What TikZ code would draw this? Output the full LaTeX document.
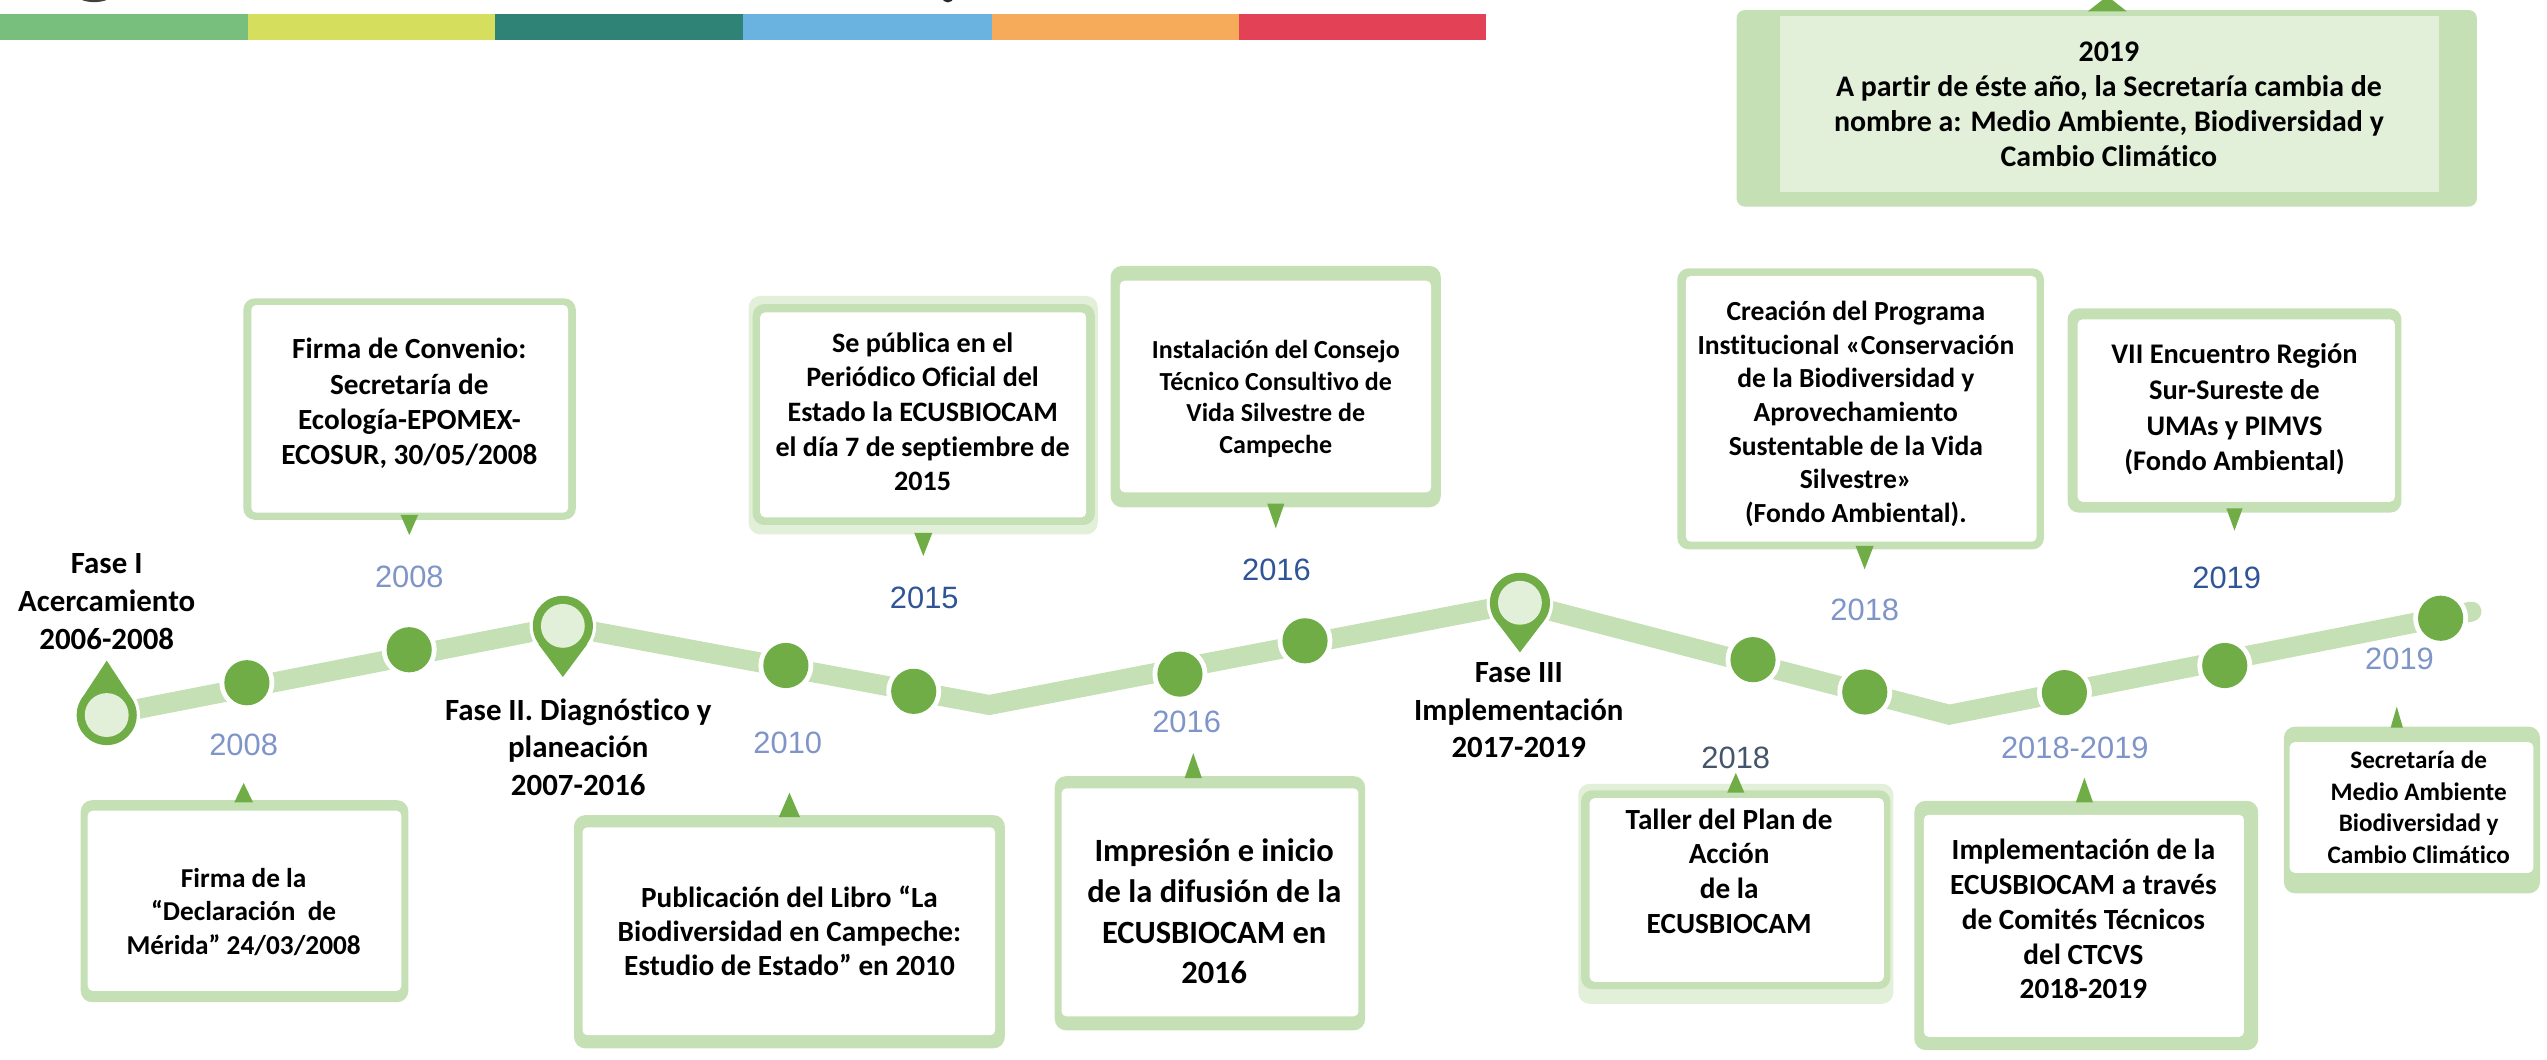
\documentclass[tikz,border=0pt]{standalone}
\usepackage{fontspec}
\setmainfont{Carlito}[Ligatures=NoCommon]
\newfontfamily\arialf{Liberation Sans}
\definecolor{lgreen}{HTML}{C5E0B4}
\definecolor{pgreen}{HTML}{E2EFD9}
\definecolor{dgreen}{HTML}{70AD47}
\definecolor{yrlight}{HTML}{7F95C7}
\definecolor{yrdark}{HTML}{2F5597}
\definecolor{yrslate}{HTML}{44546A}
\definecolor{barA}{HTML}{78BE7C}
\definecolor{barB}{HTML}{D6DE5E}
\definecolor{barC}{HTML}{2E8376}
\definecolor{barD}{HTML}{6AB2DF}
\definecolor{barE}{HTML}{F5AB5A}
\definecolor{barF}{HTML}{E34155}
\newcommand{\fsz}[2]{\fontsize{#1}{#2}\selectfont\bfseries}
\newcommand{\callbox}[8]{%
  \fill[lgreen, rounded corners=7] (#1,#2) rectangle (#3,#4);
  \fill[white, rounded corners=3] (#5,#6) rectangle (#7,#8);}
\newcommand{\halo}[4]{\fill[pgreen, rounded corners=7] (#1,#2) rectangle (#3,#4);}
\newcommand{\ptr}[4]{\fill[dgreen] ({#1-#4},#2) -- ({#1+#4},#2) -- (#1,#3) -- cycle;}
\begin{document}
\begin{tikzpicture}[x=1pt,y=-1pt,
  btxt/.style={align=center, inner sep=0pt, text=black,
     execute at begin node=\strut, execute at end node=\strut},
  yr/.style={inner sep=0pt, font=\arialf\fontsize{19}{22}\selectfont},
  tline/.style={lgreen, line width=12.3pt, line cap=round, line join=miter},
  dot/.style={circle, inner sep=0pt, minimum size=27.8pt, fill=dgreen,
     preaction={draw=white, line width=6pt}},
  pinc/.style={circle, inner sep=0pt, minimum size=37pt, fill=dgreen,
     preaction={draw=white, line width=4pt}},
  pini/.style={circle, inner sep=0pt, minimum size=27pt, fill=pgreen}]
\useasboundingbox (0,0) rectangle (1568,652);
\clip (0,0) rectangle (1568,652);

% top colour bar and cut-off title fragments
\fill[barA] (0,8.6) rectangle (152.5,24.8);
\fill[barB] (152.5,8.6) rectangle (305,24.8);
\fill[barC] (305,8.6) rectangle (457.5,24.8);
\fill[barD] (457.5,8.6) rectangle (610.5,24.8);
\fill[barE] (610.5,8.6) rectangle (763,24.8);
\fill[barF] (763,8.6) rectangle (915,24.8);
\fill[black!75] (58,-2.5) ellipse (10 and 3.8);
\fill[black!85] (583.5,-1.5) ellipse (3.5 and 3);

% timeline band
\draw[tline] (65.7,440.2) -- (346.5,385.3) -- (609,434) -- (935.7,371.1) -- (1200,440) -- (1521.5,376.5);

% dots
\node[dot] (d1) at (152,420.3) {};
\node[dot] (d2) at (251.9,400) {};
\node[dot] (d3) at (483.8,409.7) {};
\node[dot] (d4) at (562.5,425.6) {};
\node[dot] (d5) at (726.4,415) {};
\node[dot] (d6) at (803.4,394.5) {};
\node[dot] (d7) at (1079.2,406.1) {};
\node[dot] (d8) at (1148,426) {};
\node[dot] (d9) at (1270.9,426.4) {};
\node[dot] (d10) at (1369.6,409.7) {};
\node[dot] (d11) at (1502.5,380.6) {};

% pins
\draw[white, line width=4pt, fill=white] (50.3,430.1) -- (65.7,406.7) -- (81.1,430.1) -- cycle;
\node[pinc] (p1) at (65.7,440.2) {};
\fill[dgreen] (50.3,430.1) -- (65.7,406.7) -- (81.1,430.1) -- cycle;
\node[pini] (p1i) at (65.7,440.2) {};

\draw[white, line width=4pt, fill=white] (331.4,396.5) -- (346.5,416.8) -- (361.6,396.5) -- cycle;
\node[pinc] (p2) at (346.5,385.3) {};
\fill[dgreen] (331.4,396.5) -- (346.5,416.8) -- (361.6,396.5) -- cycle;
\node[pini] (p2i) at (346.5,385.3) {};

\draw[white, line width=4pt, fill=white] (921,382.3) -- (935.7,401.6) -- (950.4,382.3) -- cycle;
\node[pinc] (p3) at (935.7,371.1) {};
\fill[dgreen] (921,382.3) -- (935.7,401.6) -- (950.4,382.3) -- cycle;
\node[pini] (p3i) at (935.7,371.1) {};

% phase labels
\node[btxt, font=\fsz{19}{23.4}] (f1) at (65.7,373.8) {Fase I\\Acercamiento\\2006-2008};
\node[btxt, font=\fsz{19}{23.2}] (f2) at (356,463.4) {Fase II. Diagnóstico y\\planeación\\2007-2016};
\node[btxt, font=\fsz{19}{23.2}] (f3) at (935,440.7) {Fase III\\Implementación\\2017-2019};

% year labels
\node[yr, text=yrlight] (y1) at (252,355) {2008};
\node[yr, text=yrlight] (y2) at (150,458.5) {2008};
\node[yr, text=yrdark] (y3) at (569,368) {2015};
\node[yr, text=yrlight] (y4) at (485,457.5) {2010};
\node[yr, text=yrdark] (y5) at (785.8,350.8) {2016};
\node[yr, text=yrlight] (y6) at (730.5,444.3) {2016};
\node[yr, text=yrlight] (y7) at (1148,375.2) {2018};
\node[yr, text=yrdark] (y8) at (1370.8,355.9) {2019};
\node[yr, text=yrlight] (y9) at (1477.2,405.7) {2019};
\node[yr, text=yrslate] (y10) at (1068.6,466.6) {2018};
\node[yr, text=yrlight] (y11) at (1277.3,460.5) {2018-2019};

% ---- upper callouts
\callbox{149.8}{183.7}{354.5}{320}{154.7}{187.8}{349.8}{315.6}
\ptr{252}{317}{329.4}{5.4}
\node[btxt, font=\fsz{18}{21.6}] (b1) at (252,250.3) {Firma de Convenio:\\Secretaría de\\Ecología-EPOMEX-\\ECOSUR, 30/05/2008};

\halo{460.9}{182.2}{675.8}{329}
\callbox{463.4}{187.2}{674}{323.2}{468}{192.3}{668.7}{318.5}
\ptr{568.4}{328}{342.3}{5.6}
\node[btxt, font=\fsz{17.3}{21.3}] (b2) at (568,256.6) {Se pública en el\\Periódico Oficial del\\Estado la ECUSBIOCAM\\el día 7 de septiembre de\\2015};

\callbox{683.7}{163.7}{887}{312.3}{689.4}{172.8}{881}{303.1}
\ptr{785.4}{310}{325.3}{5.3}
\node[btxt, font=\fsz{16}{19.5}] (b3) at (785.4,247.2) {Instalación del Consejo\\Técnico Consultivo de\\Vida Silvestre de\\Campeche};

\callbox{1032.6}{165.2}{1258.3}{338.2}{1037.9}{169.9}{1253.8}{333.5}
\ptr{1147.9}{336}{350.5}{5.6}
\node[btxt, font=\fsz{17}{20.7}] (b4) at (1142.5,256.6) {Creación del Programa\\Institucional «Conservación\\de la Biodiversidad y\\Aprovechamiento\\Sustentable de la Vida\\Silvestre»\\(Fondo Ambiental).};

\callbox{1272.8}{189.8}{1478.4}{315.6}{1279}{196.6}{1474.3}{308.9}
\ptr{1375.6}{313}{326.7}{5}
\node[btxt, font=\fsz{17.5}{21.9}] (b5) at (1375.6,254) {VII Encuentro Región\\Sur-Sureste de\\UMAs y PIMVS\\(Fondo Ambiental)};

\fill[lgreen, rounded corners=5] (1069.1,6.2) rectangle (1524.8,127.2);
\fill[pgreen] (1095.7,9.8) rectangle (1501.5,118);
\ptr{1297.3}{7}{-2.4}{12}
\node[btxt, font=\fsz{18.4}{21.6}] (b6) at (1298.3,67.6) {2019\\A partir de éste año, la Secretaría cambia de\\nombre a: Medio Ambiente, Biodiversidad y\\Cambio Climático};

% ---- lower callouts
\callbox{49.7}{492.6}{251.4}{617}{54}{499.1}{247.1}{610}
\ptr{150}{494}{482}{5.8}
\node[btxt, font=\fsz{16.8}{20.6}] (b7) at (150,563.9) {Firma de la\\“Declaración\ \ de\\Mérida” 24/03/2008};

\callbox{353.4}{501.8}{618.6}{645.4}{358.6}{509.3}{612.6}{637.3}
\ptr{486}{503}{488}{6.5}
\node[btxt, font=\fsz{18}{21}] (b8) at (486,576) {Publicación del Libro “La\\Biodiversidad en Campeche:\\Estudio de Estado” en 2010};

\callbox{649.3}{477.8}{840.4}{634.3}{653.5}{485.3}{836.3}{625.7}
\ptr{734.6}{479}{463.6}{5.3}
\node[btxt, font=\fsz{20}{25}] (b9) at (747.5,564.8) {Impresión e inicio\\de la difusión de la\\ECUSBIOCAM en\\2016};

\halo{971.6}{482.5}{1165.6}{618}
\callbox{973.3}{486.5}{1163.8}{608.9}{978.6}{491.4}{1159.7}{604.4}
\ptr{1068.6}{488}{475.8}{5.3}
\node[btxt, font=\fsz{18}{21.3}] (b10) at (1064.5,539.4) {Taller del Plan de\\Acción\\de la\\ECUSBIOCAM};

\callbox{1178.5}{493}{1390.2}{646.5}{1184.4}{501.6}{1381.4}{638.3}
\ptr{1283.2}{494}{478.8}{5.3}
\node[btxt, font=\fsz{18}{21.35}] (b11) at (1282.6,569) {Implementación de la\\ECUSBIOCAM a través\\de Comités Técnicos\\del CTCVS\\2018-2019};

\callbox{1406}{447.3}{1563.7}{550}{1409.6}{456.9}{1559.6}{537.3}
\ptr{1475.5}{448}{435}{3.8}
\node[btxt, font=\fsz{15.5}{19.55}] (b12) at (1489,499.8) {Secretaría de\\Medio Ambiente\\Biodiversidad y\\Cambio Climático};
\end{tikzpicture}
\end{document}
